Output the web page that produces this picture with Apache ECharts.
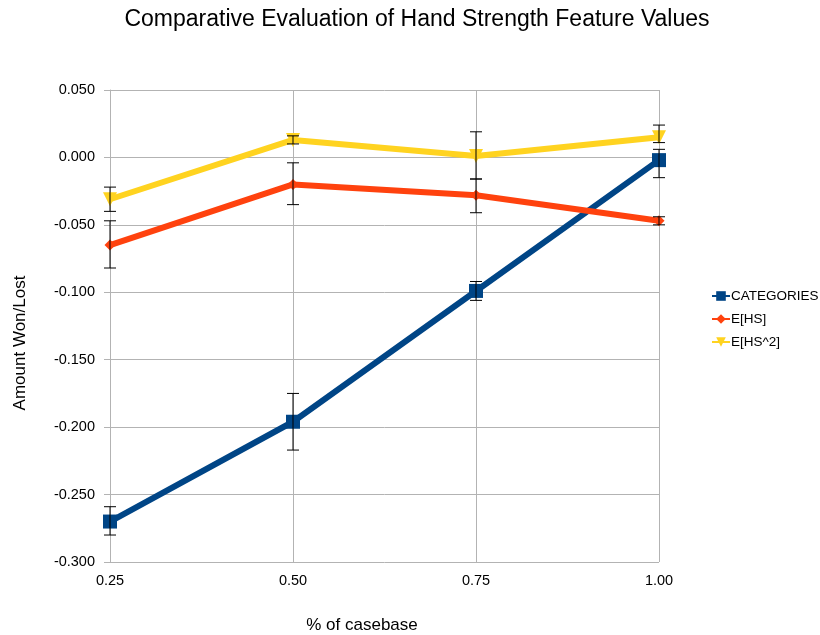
<!DOCTYPE html>
<html><head><meta charset="utf-8">
<script src="https://cdn.jsdelivr.net/npm/echarts@6/dist/echarts.min.js"></script>
<style>html,body{margin:0;padding:0;background:#fff}#c{width:820px;height:635px}</style>
</head><body><div id="c"></div>
<script>
var categories = ['0.25', '0.50', '0.75', '1.00'];
var yTicks = [-0.300, -0.250, -0.200, -0.150, -0.100, -0.050, 0.000, 0.050];
var seriesNames = ['CATEGORIES', 'E[HS]', 'E[HS^2]'];
var catValues = [-0.270, -0.196, -0.099, -0.002];
var catLow = [-0.280, -0.217, -0.106, -0.015];
var catHigh = [-0.259, -0.175, -0.092, 0.006];
var hsValues = [-0.065, -0.020, -0.028, -0.047];
var hsLow = [-0.082, -0.035, -0.041, -0.050];
var hsHigh = [-0.047, -0.004, -0.016, -0.044];
var hs2Values = [-0.031, 0.013, 0.001, 0.015];
var hs2Low = [-0.040, 0.010, -0.016, 0.011];
var hs2High = [-0.022, 0.016, 0.019, 0.024];

var colors = ['#004586', '#ff420e', '#ffd320'];
var font = '"Liberation Sans", Arial, sans-serif';

function errData(low, high) {
  return categories.map(function (c, i) { return [i, low[i], high[i]]; });
}
function errSeries(low, high) {
  return {
    type: 'custom',
    z: 10,
    silent: true,
    data: errData(low, high),
    renderItem: function (params, api) {
      var x = api.value(0);
      var lo = api.coord([x, api.value(1)]);
      var hi = api.coord([x, api.value(2)]);
      var w = 6;
      var st = { stroke: '#000', lineWidth: 1 };
      return {
        type: 'group',
        children: [
          { type: 'line', shape: { x1: lo[0], y1: lo[1], x2: hi[0], y2: hi[1] }, style: st },
          { type: 'line', shape: { x1: lo[0] - w, y1: lo[1], x2: lo[0] + w, y2: lo[1] }, style: st },
          { type: 'line', shape: { x1: hi[0] - w, y1: hi[1], x2: hi[0] + w, y2: hi[1] }, style: st }
        ]
      };
    }
  };
}

var chart = echarts.init(document.getElementById('c'), null, { renderer: 'canvas' });
chart.setOption({
  animation: false,
  backgroundColor: '#fff',
  title: {
    text: 'Comparative Evaluation of Hand Strength Feature Values',
    left: 412, top: 3, textAlign: 'center',
    textStyle: { fontFamily: font, fontSize: 23, fontWeight: 'normal', color: '#000' }
  },
  graphic: [
    {
      type: 'text', x: 20, y: 343, rotation: Math.PI / 2,
      style: { text: 'Amount Won/Lost', align: 'center', verticalAlign: 'middle',
        font: '17px "Liberation Sans", Arial, sans-serif', fill: '#000' }
    },
    {
      type: 'text', x: 362, y: 625,
      style: { text: '% of casebase', align: 'center', verticalAlign: 'middle',
        font: '17px "Liberation Sans", Arial, sans-serif', fill: '#000' }
    }
  ],
  legend: {
    orient: 'vertical', left: 711, top: 289, itemGap: 9, padding: 0,
    itemWidth: 18, itemHeight: 12,
    data: seriesNames,
    textStyle: { fontFamily: font, fontSize: 13.5, color: '#000', padding: [0, 0, 0, -4] }
  },
  grid: { left: 110, right: 161, top: 90, bottom: 73, containLabel: false },
  xAxis: {
    type: 'category', data: categories, boundaryGap: false,
    axisLine: { lineStyle: { color: '#b3b3b3' } },
    axisTick: { show: false },
    axisLabel: { fontFamily: font, fontSize: 14.5, color: '#000', margin: 11 },
    splitLine: { show: true, lineStyle: { color: '#b3b3b3' } }
  },
  yAxis: {
    type: 'value', min: -0.3, max: 0.05, interval: 0.05,
    axisLine: { show: true, lineStyle: { color: '#b3b3b3' } },
    axisTick: { show: true, length: 6, lineStyle: { color: '#b3b3b3' } },
    axisLabel: {
      fontFamily: font, fontSize: 14.5, color: '#000', margin: 15,
      formatter: function (v) {
        var best = yTicks.reduce(function (a, b) { return Math.abs(b - v) < Math.abs(a - v) ? b : a; });
        return best.toFixed(3);
      }
    },
    splitLine: { show: true, lineStyle: { color: '#b3b3b3' } }
  },
  series: [
    {
      name: seriesNames[0], type: 'line', data: catValues, z: 3,
      symbol: 'rect', symbolSize: 14,
      lineStyle: { width: 6, color: colors[0] }, itemStyle: { color: colors[0] }
    },
    {
      name: seriesNames[1], type: 'line', data: hsValues, z: 4,
      symbol: 'diamond', symbolSize: 11,
      lineStyle: { width: 6, color: colors[1] }, itemStyle: { color: colors[1] }
    },
    {
      name: seriesNames[2], type: 'line', data: hs2Values, z: 5,
      symbol: 'triangle', symbolRotate: 180, symbolSize: 14,
      lineStyle: { width: 6, color: colors[2] }, itemStyle: { color: colors[2] }
    },
    errSeries(catLow, catHigh),
    errSeries(hsLow, hsHigh),
    errSeries(hs2Low, hs2High)
  ]
});
</script>
</body></html>
